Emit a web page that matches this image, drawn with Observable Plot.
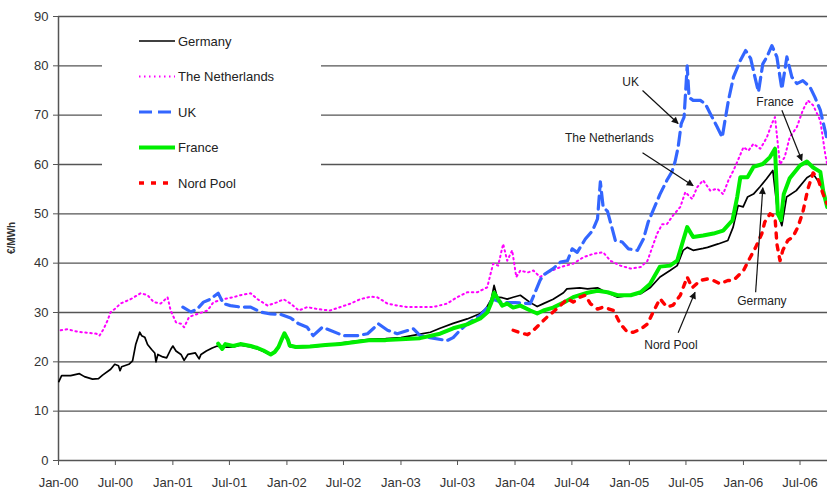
<!DOCTYPE html>
<html><head><meta charset="utf-8">
<script src="https://cdn.jsdelivr.net/npm/d3@7"></script>
<script src="https://cdn.jsdelivr.net/npm/@observablehq/plot@0.6"></script>
<style>
html,body{margin:0;padding:0;background:#fff;}
#chart{width:827px;height:492px;overflow:hidden;}
</style></head><body><div id="chart"></div>
<script>
const germany = [
["2000-01-02",16.0],["2000-01-11",17.2],["2000-02-09",17.2],["2000-03-08",17.6],["2000-03-24",17.0],["2000-04-19",16.5],["2000-05-08",16.6],["2000-05-21",17.3],["2000-06-16",18.5],["2000-06-29",19.5],["2000-07-11",19.2],["2000-07-16",18.2],["2000-07-21",19.0],["2000-08-13",19.5],["2000-08-25",20.2],["2000-09-04",23.5],["2000-09-17",26.0],["2000-09-23",25.3],["2000-10-03",25.0],["2000-10-12",23.5],["2000-10-25",22.5],["2000-11-04",21.8],["2000-11-08",20.0],["2000-11-14",21.5],["2000-11-30",21.0],["2000-12-12",20.8],["2000-12-25",22.5],["2001-01-01",23.2],["2001-01-11",22.2],["2001-01-27",21.5],["2001-02-06",20.3],["2001-02-18",21.5],["2001-03-14",21.8],["2001-03-26",20.6],["2001-04-01",21.5],["2001-04-18",22.2],["2001-05-07",22.8],["2001-05-23",23.2],
["2001-06-08",23.0],["2001-07-13",23.0],["2001-08-05",23.4],["2001-09-07",23.0],["2001-09-29",22.6],["2001-10-18",22.1],["2001-11-10",21.4],["2001-11-23",21.9],["2001-12-05",22.8],["2001-12-15",24.3],["2001-12-24",25.5],["2002-01-04",24.3],["2002-01-10",23.1],["2002-01-29",22.9],["2002-03-16",23.0],["2002-05-04",23.3],["2002-06-21",23.8],["2002-08-08",24.2],["2002-09-26",24.6],["2002-11-13",24.7],["2003-01-01",24.9],["2003-03-03",25.6],["2003-04-05",26.0],["2003-05-06",26.8],["2003-06-17",27.8],["2003-08-01",28.7],["2003-09-12",29.8],["2003-09-30",30.8],["2003-10-17",32.7],["2003-10-26",35.5],["2003-11-05",33.1],["2003-11-21",33.0],["2003-12-07",32.7],["2003-12-26",33.1],["2004-01-18",33.5],["2004-02-19",32.0],["2004-03-12",31.2],["2004-04-01",31.8],["2004-05-02",32.7],["2004-06-04",34.0],["2004-06-15",34.8],["2004-07-26",35.0],["2004-08-20",34.8],["2004-09-21",35.0],["2004-10-09",34.4],["2004-11-24",33.1],["2005-01-05",33.5],["2005-02-06",33.8],["2005-03-08",35.0],["2005-04-09",37.2],["2005-05-11",38.5],["2005-06-03",39.5],["2005-06-22",42.6],["2005-07-05",43.2],["2005-07-24",42.6],["2005-08-25",43.0],["2005-09-08",43.2],["2005-10-12",43.9],["2005-11-12",44.6],["2005-11-29",47.3],["2005-12-15",51.7],["2005-12-31",51.4],["2006-01-14",53.4],["2006-02-02",54.0],["2006-02-23",55.5],["2006-03-16",57.1],["2006-04-05",58.8],["2006-04-21",50.0],["2006-05-04",47.6],["2006-05-19",53.4],["2006-06-19",54.7],["2006-07-23",57.3],["2006-08-12",58.1],["2006-09-04",56.0],["2006-09-26",52.0]
];
const netherlands = [
["2000-01-08",26.4],["2000-01-30",26.6],["2000-03-02",26.1],["2000-04-03",25.9],["2000-05-01",25.7],["2000-05-11",25.3],["2000-05-24",26.6],["2000-06-06",28.4],["2000-06-16",30.1],["2000-07-01",30.8],["2000-07-17",31.8],["2000-08-19",32.7],["2000-09-20",33.9],["2000-10-12",33.5],["2000-11-01",32.1],["2000-11-23",31.8],["2000-12-15",33.1],["2000-12-25",30.4],["2001-01-11",28.0],["2001-01-27",27.7],["2001-02-06",27.0],["2001-02-22",29.1],["2001-03-20",29.7],["2001-04-22",30.4],["2001-05-11",32.1],["2001-06-12",32.7],["2001-07-13",33.1],["2001-08-05",33.5],["2001-09-07",33.9],["2001-09-29",32.7],["2001-10-31",31.4],["2001-12-02",32.1],["2001-12-21",32.7],["2002-01-13",31.8],["2002-02-08",30.4],["2002-03-07",31.1],["2002-04-08",30.7],["2002-05-19",30.4],["2002-06-21",31.1],["2002-07-23",31.8],["2002-08-24",32.7],["2002-09-26",33.2],["2002-10-17",33.1],["2002-11-19",31.8],["2002-12-20",31.4],["2003-01-22",31.1],["2003-03-03",31.1],["2003-04-14",31.1],["2003-05-28",31.8],["2003-06-30",33.1],["2003-08-01",34.1],["2003-09-02",34.1],["2003-10-04",35.1],["2003-10-13",37.4],["2003-10-23",39.9],["2003-11-08",39.5],["2003-11-24",43.9],["2003-12-07",40.5],["2003-12-23",42.6],["2004-01-05",37.2],["2004-01-18",38.5],["2004-02-10",38.1],["2004-02-29",38.5],["2004-03-21",37.2],["2004-04-13",38.1],["2004-05-25",39.2],["2004-07-05",39.9],["2004-08-07",41.2],["2004-09-08",41.9],["2004-10-09",42.2],["2004-11-01",40.5],["2004-12-03",39.5],["2005-01-05",38.9],["2005-02-06",39.2],["2005-02-28",40.5],["2005-03-15",43.2],["2005-03-31",46.0],["2005-04-16",47.9],["2005-05-01",47.9],["2005-05-21",49.7],["2005-06-13",51.4],["2005-06-29",54.4],["2005-07-21",53.0],["2005-08-06",55.4],["2005-08-25",56.8],["2005-09-17",54.7],["2005-10-09",55.1],["2005-10-28",54.0],["2005-11-14",56.8],["2005-11-30",58.8],["2005-12-12",60.5],["2006-01-01",63.5],["2006-01-17",62.8],["2006-02-02",64.2],["2006-02-24",63.2],["2006-03-17",65.5],["2006-04-02",68.3],["2006-04-12",69.6],["2006-04-21",64.2],["2006-04-28",60.0],["2006-05-13",61.5],["2006-05-29",65.5],["2006-06-21",67.6],["2006-07-10",71.0],["2006-07-26",73.0],["2006-08-12",72.0],["2006-09-04",68.9],["2006-09-20",62.0],["2006-09-26",60.0]
];
const uk = [
["2001-02-02",31.1],["2001-02-28",30.1],["2001-03-20",30.7],["2001-04-09",32.1],["2001-05-01",32.7],["2001-05-26",33.9],["2001-06-12",31.8],["2001-07-04",31.4],["2001-08-05",31.1],["2001-09-07",31.1],["2001-10-09",30.1],["2001-11-10",29.7],["2001-12-12",29.6],["2002-01-13",28.9],["2002-02-08",27.7],["2002-03-07",27.0],["2002-03-26",25.3],["2002-04-24",27.0],["2002-05-19",26.4],["2002-07-01",25.3],["2002-08-14",25.3],["2002-09-16",25.7],["2002-10-21",27.7],["2002-11-19",26.4],["2002-12-20",25.7],["2003-02-10",26.7],["2003-03-03",25.3],["2003-04-04",24.9],["2003-05-28",24.3],["2003-06-17",24.9],["2003-07-09",26.4],["2003-08-01",27.7],["2003-09-12",29.4],["2003-10-04",31.0],["2003-10-23",32.7],["2003-11-21",32.0],["2004-01-02",32.0],["2004-02-19",31.8],["2004-03-21",36.5],["2004-04-01",37.6],["2004-05-02",38.9],["2004-05-25",40.2],["2004-06-17",40.5],["2004-07-02",42.9],["2004-07-18",42.2],["2004-08-13",44.9],["2004-09-05",46.6],["2004-09-21",49.0],["2004-09-30",56.5],["2004-10-09",51.4],["2004-10-23",50.5],["2004-11-07",47.0],["2004-11-17",44.6],["2004-12-09",44.3],["2004-12-29",42.9],["2005-01-27",42.6],["2005-02-15",44.9],["2005-03-02",48.3],["2005-03-18",50.7],["2005-04-09",54.0],["2005-05-01",56.8],["2005-05-17",58.5],["2005-05-27",60.5],["2005-06-06",63.5],["2005-06-16",68.3],["2005-06-25",69.6],["2005-07-05",80.0],["2005-07-11",73.6],["2005-07-24",73.0],["2005-08-16",73.0],["2005-09-01",72.3],["2005-09-17",70.3],["2005-10-09",67.6],["2005-10-25",65.5],["2005-11-04",69.3],["2005-11-14",73.0],["2005-11-30",77.7],["2005-12-22",81.1],["2006-01-08",83.1],["2006-01-24",81.5],["2006-02-09",77.1],["2006-02-18",74.7],["2006-03-04",80.4],["2006-03-17",81.8],["2006-04-02",84.1],["2006-04-18",81.8],["2006-04-28",77.7],["2006-05-04",75.3],["2006-05-20",81.8],["2006-06-05",77.7],["2006-06-21",76.4],["2006-07-10",77.0],["2006-08-02",75.7],["2006-08-18",73.6],["2006-09-04",71.0],["2006-09-26",65.0]
];
const france = [
["2001-05-26",23.7],["2001-06-08",22.6],["2001-06-18",23.6],["2001-07-13",23.2],["2001-08-05",23.6],["2001-09-07",23.2],["2001-09-29",22.8],["2001-10-18",22.3],["2001-11-10",21.5],["2001-11-23",22.0],["2001-12-05",23.0],["2001-12-15",24.5],["2001-12-24",25.8],["2002-01-04",24.5],["2002-01-10",23.3],["2002-01-29",23.0],["2002-03-16",23.1],["2002-05-04",23.4],["2002-06-21",23.6],["2002-08-08",24.0],["2002-09-26",24.4],["2002-11-13",24.4],["2003-01-01",24.6],["2003-03-03",24.8],["2003-05-06",25.7],["2003-06-17",26.8],["2003-08-01",27.6],["2003-09-12",28.8],["2003-10-04",30.0],["2003-10-17",32.0],["2003-10-26",34.0],["2003-11-05",33.0],["2003-11-21",31.4],["2003-12-07",31.8],["2003-12-26",31.0],["2004-01-18",31.4],["2004-02-19",30.4],["2004-03-12",29.8],["2004-04-01",30.4],["2004-05-02",31.0],["2004-06-04",32.0],["2004-07-05",33.1],["2004-08-20",34.0],["2004-09-21",34.4],["2004-10-23",34.1],["2004-11-24",33.5],["2005-01-05",33.5],["2005-02-06",34.1],["2005-03-08",35.8],["2005-04-09",39.3],["2005-05-11",39.5],["2005-06-03",40.5],["2005-06-22",44.6],["2005-07-05",47.3],["2005-07-24",45.3],["2005-08-25",45.6],["2005-09-27",46.0],["2005-10-28",46.6],["2005-11-27",48.7],["2005-12-12",53.4],["2005-12-22",57.4],["2006-01-14",57.4],["2006-02-02",59.5],["2006-03-04",60.1],["2006-03-27",61.5],["2006-04-12",63.2],["2006-04-21",50.0],["2006-05-01",48.7],["2006-05-10",54.0],["2006-05-29",57.2],["2006-07-01",59.8],["2006-07-23",60.6],["2006-08-12",59.4],["2006-09-04",58.5],["2006-09-13",54.7],["2006-09-26",51.4]
];
const nordPool = [
["2003-12-26",26.4],["2004-01-18",25.9],["2004-02-10",25.5],["2004-02-29",26.4],["2004-03-21",27.7],["2004-04-13",29.1],["2004-05-02",30.1],["2004-05-25",31.4],["2004-06-17",32.8],["2004-07-05",32.1],["2004-07-27",33.1],["2004-08-13",33.5],["2004-08-29",31.8],["2004-09-21",30.7],["2004-10-09",31.1],["2004-11-11",30.4],["2004-12-03",27.7],["2004-12-26",26.0],["2005-01-14",26.0],["2005-02-06",26.6],["2005-02-28",27.7],["2005-03-18",30.1],["2005-04-09",32.8],["2005-05-01",31.1],["2005-05-21",31.5],["2005-06-13",33.5],["2005-07-05",37.2],["2005-07-21",35.0],["2005-08-16",36.5],["2005-09-08",36.8],["2005-09-27",36.5],["2005-10-19",35.8],["2005-11-12",36.5],["2005-11-30",36.5],["2006-01-01",38.5],["2006-01-17",40.5],["2006-02-09",43.2],["2006-03-01",46.0],["2006-03-10",48.3],["2006-03-27",50.0],["2006-04-12",49.4],["2006-04-18",43.9],["2006-04-28",40.5],["2006-05-07",42.6],["2006-05-23",44.6],["2006-06-08",45.3],["2006-06-24",47.3],["2006-07-10",50.3],["2006-07-26",55.0],["2006-08-12",58.3],["2006-08-28",57.0],["2006-09-13",54.0],["2006-09-26",52.0]
];
const seriesNames = ["Germany","The Netherlands","UK","France","Nord Pool"];
const yTicks = [0,10,20,30,40,50,60,70,80,90];
const xTickDates = ["2000-01-01","2000-07-01","2001-01-01","2001-07-01","2002-01-01","2002-07-01","2003-01-01","2003-07-01","2004-01-01","2004-07-01","2005-01-01","2005-07-01","2006-01-01","2006-07-01"];
const annotLabels = [
  {text:"UK", date:"2005-01-05", value:76.6},
  {text:"The Netherlands", date:"2004-10-29", value:65.4},
  {text:"France", date:"2006-04-12", value:72.6},
  {text:"Germany", date:"2006-03-01", value:32.4},
  {text:"Nord Pool", date:"2005-05-14", value:23.3}
];
const annotArrows = [
  {d1:"2005-02-12", v1:75.0, d2:"2005-06-06", v2:68.3},
  {d1:"2005-02-12", v1:62.4, d2:"2005-07-24", v2:55.7},
  {d1:"2006-05-04", v1:71.0, d2:"2006-07-07", v2:60.8},
  {d1:"2006-02-09", v1:34.1, d2:"2006-03-04", v2:55.3},
  {d1:"2005-06-06", v1:25.9, d2:"2005-07-30", v2:34.1}
];

const styles = {
  "Germany": {stroke:"#000000", strokeWidth:1.7, dash:null},
  "The Netherlands": {stroke:"#ff00ff", strokeWidth:2, dash:"1.5,3.5"},
  "UK": {stroke:"#3366ff", strokeWidth:3.2, dash:"13,6"},
  "France": {stroke:"#00ee00", strokeWidth:4, dash:null},
  "Nord Pool": {stroke:"#ff0000", strokeWidth:3.4, dash:"5,7"}
};
const dataByName = {"Germany":germany,"The Netherlands":netherlands,"UK":uk,"France":france,"Nord Pool":nordPool};
const P = s => new Date(s);
const font = "'Liberation Sans', Arial, sans-serif";

const lineMarks = seriesNames.map(n => {
  const s = styles[n];
  return Plot.line(dataByName[n], {
    x: d => P(d[0]), y: d => d[1],
    stroke: s.stroke, strokeWidth: s.strokeWidth,
    strokeDasharray: s.dash || undefined,
    strokeLinejoin: "round", clip: true
  });
});

const x0 = P("2000-01-01");
const plot = Plot.plot({
  width: 827, height: 492,
  marginLeft: 58, marginRight: 0, marginTop: 16, marginBottom: 32,
  style: {fontFamily: font, fontSize: "13px", color: "#333", background: "#fff", overflow: "visible"},
  x: {type: "utc", domain: [x0, P("2006-09-27")]},
  y: {domain: [0, 90]},
  marks: [
    Plot.ruleY(yTicks.slice(1), {stroke: "#555", strokeWidth: 1.3}),
    Plot.axisY({ticks: yTicks, tickSize: 5, tickPadding: 5, stroke: "#555", fill: "#333", fontSize: 13, label: null}),
    Plot.axisX({ticks: xTickDates.map(P), tickFormat: d3.utcFormat("%b-%y"), tickSize: 5, tickPadding: 12, stroke: "#555", fill: "#333", fontSize: 13, label: null}),
    Plot.ruleY([0], {stroke: "#555", strokeWidth: 1.5}),
    Plot.ruleX([x0], {stroke: "#555", strokeWidth: 1.5}),
    ...lineMarks,
    Plot.link(annotArrows, {x1: d => P(d.d1), y1: "v1", x2: d => P(d.d2), y2: "v2", stroke: "#111", strokeWidth: 1.2}),
    Plot.text(annotLabels, {x: d => P(d.date), y: "value", text: "text", fontSize: 12, fill: "#222"})
  ]
});
document.getElementById("chart").appendChild(plot);

const svg = d3.select(plot);
const defs = svg.insert("defs", ":first-child");
defs.append("marker").attr("id", "ahead").attr("viewBox", "0 0 10 10").attr("refX", 9).attr("refY", 5)
  .attr("markerWidth", 9).attr("markerHeight", 7).attr("markerUnits", "userSpaceOnUse").attr("orient", "auto")
  .append("path").attr("d", "M0,0L10,5L0,10z").attr("fill", "#111");
svg.selectAll('g[aria-label="link"] path, g[aria-label="link"] line').attr("marker-end", "url(#ahead)");

svg.append("text").attr("transform", "translate(15,238) rotate(-90)").attr("text-anchor", "middle")
  .attr("font-size", 10).attr("font-weight", "bold").attr("fill", "#333").attr("font-family", font).text("€/MWh");

const lg = svg.append("g");
lg.append("rect").attr("x", 102).attr("y", 24).attr("width", 219).attr("height", 180).attr("fill", "#fff");
seriesNames.forEach((n, i) => {
  const s = styles[n];
  const y = 41 + i * 35.5;
  lg.append("line").attr("x1", 139).attr("x2", 175).attr("y1", y).attr("y2", y)
    .attr("stroke", s.stroke).attr("stroke-width", s.strokeWidth).attr("stroke-dasharray", s.dash || null);
  lg.append("text").attr("x", 178).attr("y", y).attr("dy", "0.35em").attr("text-anchor", "start").attr("font-size", 13)
    .attr("fill", "#222").attr("font-family", font).text(n);
});
</script></body></html>
